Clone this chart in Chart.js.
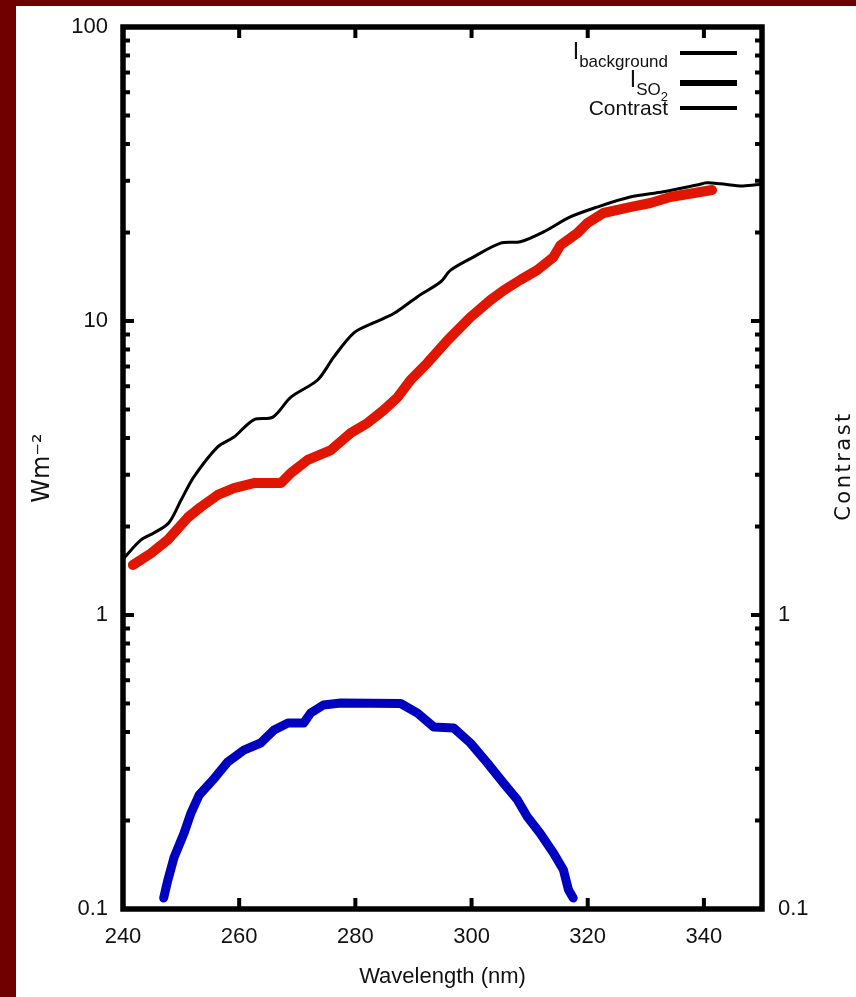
<!DOCTYPE html>
<html>
<head>
<meta charset="utf-8">
<script src="https://cdn.jsdelivr.net/npm/chart.js@4.4.1/dist/chart.umd.min.js"></script>
<style>
  html, body { margin: 0; padding: 0; }
  body { width: 856px; height: 997px; background: #700000; position: relative; overflow: hidden;
         font-family: "Liberation Sans", sans-serif; color: #111; }
  #panel { position: absolute; left: 16px; top: 6px; width: 840px; height: 991px; background: #fff; }
  #chart { display: block; }
  .row { position: absolute; right: 188px; font-size: 23px; line-height: 24px; white-space: nowrap; }
  .sub { font-size: 17px; vertical-align: -8px; }
  .sub2 { font-size: 13px; vertical-align: -6px; }
  .key { position: absolute; left: 680px; width: 57px; background: #000; }
  #y2title { position: absolute; left: 778px; top: 454px; width: 130px; height: 24px; line-height: 24px;
             text-align: center; font-family: "DejaVu Sans", sans-serif; font-size: 21px;
             letter-spacing: 2.5px; transform: rotate(-90deg); }
</style>
</head>
<body>
<div id="panel"><canvas id="chart" width="840" height="991"></canvas></div>

<div class="row" style="top:39px">I<span class="sub">background</span></div>
<div class="key" style="top:51px;height:4px"></div>
<div class="row" style="top:67px">I<span class="sub">SO<span class="sub2">2</span></span></div>
<div class="key" style="top:80px;height:6px"></div>
<div class="row" style="top:96px;font-size:21px">Contrast</div>
<div class="key" style="top:106px;height:4px"></div>

<div id="y2title">Contrast</div>

<script>
// values
var bgWavelength = [240, 243.1, 245.3, 247.9, 250.0, 252.2, 256.3, 259.1, 262.5, 265.8, 268.9,
    273.5, 276.3, 279.7, 283.1, 286.6, 290.7, 294.7, 296.4, 300.3, 305.0, 308.4, 312.4, 317.0,
    321.6, 327.3, 333.0, 338.8, 340.5, 342.8, 346.7, 350];
var bgIntensity = [1.55, 1.80, 1.90, 2.06, 2.46, 2.95, 3.73, 4.03, 4.61, 4.71, 5.51,
    6.30, 7.55, 9.10, 9.85, 10.6, 12.1, 13.6, 14.9, 16.5, 18.4, 18.6, 20.1, 22.6,
    24.4, 26.4, 27.5, 29.0, 29.5, 29.3, 28.8, 29.2];

var so2Wavelength = [241.7, 244.8, 247.7, 251.2, 253.4, 256.3, 259.1, 262.5, 267.2, 268.9,
    271.8, 275.8, 279.2, 282.1, 284.9, 287.3, 289.5, 292.4, 295.9, 299.8, 303.3, 305.5,
    308.4, 311.3, 314.1, 315.3, 318.2, 319.9, 322.7, 327.3, 330.8, 334.2, 338.1, 341.4];
var so2Intensity = [1.48, 1.62, 1.80, 2.15, 2.33, 2.56, 2.70, 2.81, 2.81, 3.04,
    3.37, 3.64, 4.16, 4.50, 4.98, 5.51, 6.30, 7.20, 8.61, 10.3, 11.8, 12.7,
    13.8, 14.9, 16.5, 18.1, 19.9, 21.5, 23.3, 24.4, 25.2, 26.4, 27.2, 27.9];

var contrastWavelength = [247.0, 247.7, 248.8, 250.5, 251.7, 253.1, 255.5, 258.0, 260.8,
    263.7, 266.0, 268.4, 271.1, 272.3, 274.5, 277.5, 287.8, 290.7, 293.5, 296.9, 299.8,
    302.7, 305.5, 307.9, 309.6, 311.8, 314.1, 315.8, 316.7, 317.5];
var contrastValue = [0.109, 0.125, 0.150, 0.181, 0.212, 0.244, 0.275, 0.316, 0.347,
    0.367, 0.406, 0.429, 0.429, 0.464, 0.494, 0.502, 0.500, 0.464, 0.416, 0.413, 0.367,
    0.314, 0.268, 0.235, 0.206, 0.181, 0.155, 0.136, 0.116, 0.109];

var xTickValues = [240, 260, 280, 300, 320, 340];
var yTickValues = [0.1, 1, 10, 100];
var y2TickValues = [0.1, 1];

function toPoints(xs, ys) {
    return xs.map(function (x, i) { return {x: x, y: ys[i]}; });
}

var tickFont = {family: '"Liberation Sans", sans-serif', size: 22};

// invisible tick marks, only used to push the labels away from the frame
function hiddenGrid(len) {
    return {display: true, drawOnChartArea: false, drawTicks: true, tickLength: len,
            color: 'rgba(0,0,0,0)', tickColor: 'rgba(0,0,0,0)'};
}

// gnuplot style frame with ticks pointing inwards
var framePlugin = {
    id: 'frame',
    afterDraw: function (chart) {
        var ctx = chart.ctx, a = chart.chartArea, sx = chart.scales.x, sy = chart.scales.y;
        ctx.save();
        ctx.strokeStyle = '#000';
        ctx.lineWidth = 4;
        ctx.beginPath();
        xTickValues.forEach(function (v) {
            var px = sx.getPixelForValue(v);
            ctx.moveTo(px, a.bottom); ctx.lineTo(px, a.bottom - 11);
            ctx.moveTo(px, a.top); ctx.lineTo(px, a.top + 11);
        });
        [0.1, 1, 10].forEach(function (d) {
            for (var m = 1; m <= 10; m++) {
                var py = sy.getPixelForValue(d * m);
                var len = (m === 1 || m === 10) ? 11 : 7;
                ctx.moveTo(a.left, py); ctx.lineTo(a.left + len, py);
                ctx.moveTo(a.right, py); ctx.lineTo(a.right - len, py);
            }
        });
        ctx.stroke();
        ctx.lineWidth = 5.5;
        ctx.strokeRect(a.left, a.top, a.right - a.left, a.bottom - a.top);
        ctx.restore();
    }
};

var ctx = document.getElementById('chart');
var chart = new Chart(ctx, {
    type: 'scatter',
    data: {
        datasets: [{
            label: 'I background',
            data: toPoints(bgWavelength, bgIntensity),
            showLine: true,
            borderColor: '#000',
            borderWidth: 3,
            pointRadius: 0,
            tension: 0.3,
            yAxisID: 'y',
            order: 3
        }, {
            label: 'I SO2',
            data: toPoints(so2Wavelength, so2Intensity),
            showLine: true,
            borderColor: '#e01600',
            borderWidth: 10,
            borderCapStyle: 'round',
            borderJoinStyle: 'round',
            pointRadius: 0,
            tension: 0,
            yAxisID: 'y',
            order: 2
        }, {
            label: 'Contrast',
            data: toPoints(contrastWavelength, contrastValue),
            showLine: true,
            borderColor: '#0000c0',
            borderWidth: 9,
            borderCapStyle: 'round',
            borderJoinStyle: 'round',
            pointRadius: 0,
            tension: 0,
            yAxisID: 'y2',
            order: 1
        }]
    },
    options: {
        responsive: false,
        animation: false,
        layout: {autoPadding: false, padding: {top: 21, left: 0, right: 0, bottom: 0}},
        plugins: {legend: {display: false}, tooltip: {enabled: false}},
        scales: {
            x: {
                type: 'linear', min: 240, max: 350, position: 'bottom',
                afterBuildTicks: function (s) { s.ticks = xTickValues.map(function (v) { return {value: v}; }); },
                afterFit: function (s) { s.height = 88; },
                grid: {display: false, drawTicks: false},
                border: {display: false},
                ticks: {padding: 15, color: '#111', font: tickFont, maxRotation: 0, autoSkip: false},
                title: {display: true, text: 'Wavelength (nm)', color: '#111', font: tickFont,
                        padding: {top: 0, bottom: 7}}
            },
            y: {
                type: 'logarithmic', min: 0.1, max: 100, position: 'left',
                afterBuildTicks: function (s) { s.ticks = yTickValues.map(function (v) { return {value: v}; }); },
                afterFit: function (s) { s.width = 107; },
                grid: hiddenGrid(13),
                border: {display: false},
                ticks: {padding: 2, color: '#111', font: tickFont,
                        callback: function (v) { return String(v); }},
                title: {display: true, text: 'Wm⁻²', color: '#111',
                        font: {family: '"DejaVu Sans", sans-serif', size: 24},
                        padding: {top: 12, bottom: 0}}
            },
            y2: {
                type: 'logarithmic', min: 0.1, max: 100, position: 'right',
                afterBuildTicks: function (s) { s.ticks = y2TickValues.map(function (v) { return {value: v}; }); },
                afterFit: function (s) { s.width = 94; },
                grid: hiddenGrid(14),
                border: {display: false},
                ticks: {padding: 2, color: '#111', font: tickFont,
                        callback: function (v) { return String(v); }}
            }
        }
    },
    plugins: [framePlugin]
});
</script>
</body>
</html>
